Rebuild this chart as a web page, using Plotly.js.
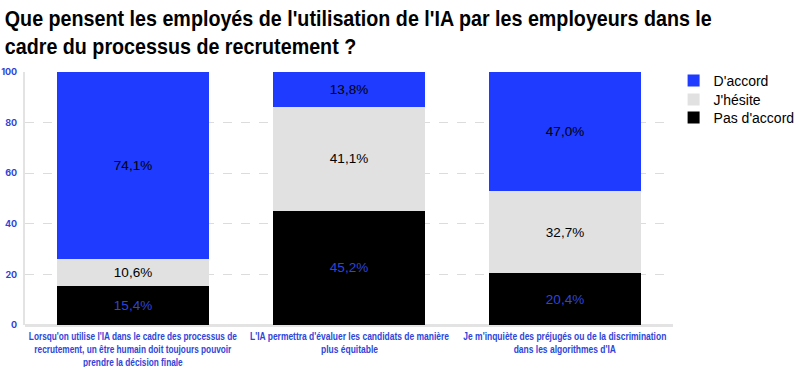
<!DOCTYPE html>
<html><head><meta charset="utf-8">
<script src="https://cdn.plot.ly/plotly-3.0.1.min.js"></script>
<style>body{margin:0;background:#fff}#chart{width:800px;height:367px}</style>
</head><body><div id="chart"></div>
<script>
const categories = [
  "Lorsqu'on utilise l'IA dans le cadre des processus de<br>recrutement, un être humain doit toujours pouvoir<br>prendre la décision finale",
  "L'IA permettra d'évaluer les candidats de manière<br>plus équitable",
  "Je m'inquiète des préjugés ou de la discrimination<br>dans les algorithmes d'IA"
];
const pasDaccord = [15.4, 45.2, 20.4];
const hesite = [10.6, 41.1, 32.7];
const daccord = [74.1, 13.8, 47.0];
const yTicks = [0, 20, 40, 60, 80, 100];

const blue = '#1f3bff';
const labelBlue = '#2f45d8';
const tickFont = 'Inter, "Liberation Sans", Arial, sans-serif';
const bodyFont = '"Liberation Sans", Arial, sans-serif';

function tr(name, y, color, textColor, legendId) {
  return {
    type: 'bar', name: name, x: [0, 1, 2], y: y, legend: legendId,
    marker: {color: color, line: {width: 0}},
    texttemplate: '%{y:.1f}%', textposition: 'inside', insidetextanchor: 'middle',
    textfont: {family: bodyFont, size: 13.5, color: textColor},
    constraintext: 'none', hoverinfo: 'none'
  };
}
const data = [
  tr("Pas d'accord", pasDaccord, '#000000', labelBlue, 'legend3'),
  tr("J'hésite", hesite, '#e1e1e1', '#000000', 'legend2'),
  tr("D'accord", daccord, blue, '#000000', 'legend')
];
const annotations = categories.map((c, i) => ({
  x: i, xref: 'x', y: 0, yref: 'paper', yanchor: 'top', yshift: -4,
  text: c, showarrow: false, align: 'center',
  font: {family: bodyFont, size: 10, color: labelBlue, weight: 'bold'}
}));
function leg(yc) {
  return {
    xref: 'container', yref: 'container', x: 0.842, xanchor: 'left',
    y: yc, yanchor: 'middle', bgcolor: 'rgba(0,0,0,0)',
    font: {family: bodyFont, size: 14, color: '#000'}, itemwidth: 30
  };
}
const layout = {
  width: 800, height: 367,
  barmode: 'stack', bargap: 0.3,
  separators: ', ',
  margin: {l: 25, r: 127, t: 72, b: 42, autoexpand: false},
  paper_bgcolor: '#fff', plot_bgcolor: '#fff',
  title: {text: "Que pensent les employés de l'utilisation de l'IA par les employeurs dans le<br>cadre du processus de recrutement ?",
    x: 0.006, xanchor: 'left', y: 0.93, yanchor: 'middle',
    font: {family: bodyFont, size: 21.5, color: '#000', weight: 'bold'}},
  xaxis: {
    range: [-0.5, 2.5], showgrid: false, zeroline: false,
    showline: false, ticks: '', showticklabels: false,
    fixedrange: true
  },
  yaxis: {
    range: [0, 100], tickmode: 'array', tickvals: yTicks,
    showgrid: true, gridcolor: '#dcdcdc', griddash: 'dash', gridwidth: 1,
    zeroline: true, zerolinecolor: '#e3e3e3', zerolinewidth: 3,
    showline: true, linecolor: '#e3e3e3', linewidth: 2,
    ticks: '', ticklabelstandoff: 4, automargin: false,
    tickfont: {family: tickFont, size: 9, color: labelBlue, weight: 'bold'},
    fixedrange: true
  },
  annotations: annotations,
  legend: leg(1 - 81 / 367),
  legend2: leg(1 - 100 / 367),
  legend3: leg(1 - 118 / 367),
  showlegend: true
};

function condenseLines(textEl, factor) {
  const lines = textEl.querySelectorAll('tspan.line');
  const list = lines.length ? lines : [textEl];
  list.forEach(t => {
    const w = t.getComputedTextLength();
    t.setAttribute('textLength', (w * factor).toFixed(1));
    t.setAttribute('lengthAdjust', 'spacingAndGlyphs');
  });
}
const titleWidth = 707;
const labelWidths = [208, 199, 203];
Plotly.newPlot('chart', data, layout, {displayModeBar: false, staticPlot: true}).then(gd => {
  const title = gd.querySelector('.gtitle');
  if (title) {
    const first = title.querySelector('tspan.line') || title;
    condenseLines(title, titleWidth / first.getComputedTextLength());
  }
  gd.querySelectorAll('.annotation-text').forEach((a, i) => {
    const first = a.querySelector('tspan.line') || a;
    condenseLines(a, labelWidths[i] / first.getComputedTextLength());
  });
});
</script></body></html>
